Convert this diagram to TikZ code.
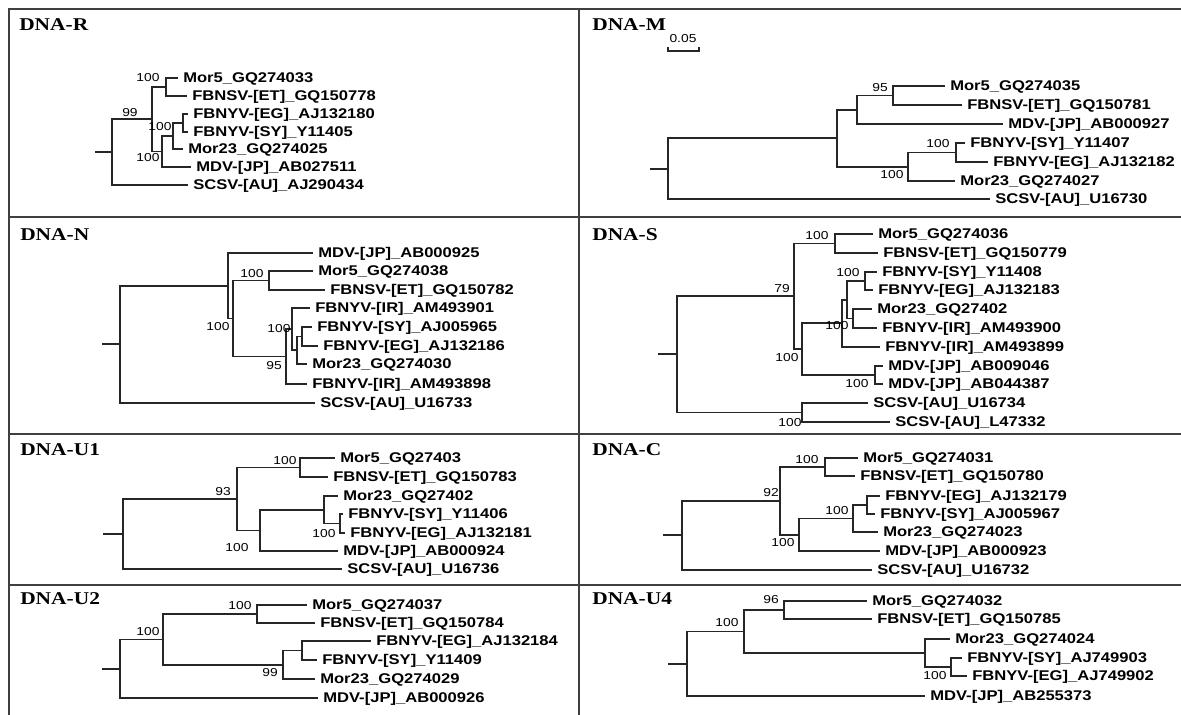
\documentclass[tikz,border=0pt]{standalone}
\usepackage{fontspec}
\usepackage{tikz}
\newfontfamily\lblfont[FakeStretch=1.18]{Liberation Sans Bold}
\newfontfamily\bsfont[FakeStretch=1.2]{Liberation Sans}
\newfontfamily\ttlfont[FakeStretch=1.19]{Liberation Serif Bold}

\begin{document}
\begin{tikzpicture}[x=0.25mm,y=-0.25mm,
  tree/.style={line width=1.2pt,draw=black!85},
  frame/.style={line width=1.4pt,draw=black!75},
  leaf/.style={anchor=west,inner sep=0pt,xshift=1.25mm,text height=7.1pt,text depth=0pt,
    font=\lblfont\fontsize{10}{12}\selectfont},
  boot/.style={inner sep=0pt,text height=5.9pt,text depth=0pt,
    font=\bsfont\fontsize{8.2}{9}\selectfont},
  panel/.style={anchor=west,inner sep=0pt,text height=8.5pt,text depth=0pt,
    font=\ttlfont\fontsize{12.8}{14}\selectfont}]
\useasboundingbox (0,0) rectangle (1181,715);

% frame
\draw[frame] (9,715) -- (9,9) -- (1181,9);
\draw[frame] (579,9) -- (579,715);
\draw[frame] (9,217) -- (1181,217);
\draw[frame] (9,434) -- (1181,434);
\draw[frame] (9,585) -- (1181,585);

% DNA-R
\node[panel] (tR) at (19,25) {DNA-R};
\coordinate (Rs) at (95,152);
\coordinate (Rr) at (112,152);
\coordinate (RA) at (152,119);
\coordinate (RB) at (166,87);
\coordinate (RC) at (162,151.5);
\coordinate (RD) at (173,136);
\coordinate (RE) at (183,123);
\coordinate (Rmor5) at (178,78);
\coordinate (Rfbnsv) at (187,96);
\coordinate (Reg) at (188,114);
\coordinate (Rsy) at (188,132);
\coordinate (Rmor23) at (183,149);
\coordinate (Rmdv) at (191,167);
\coordinate (Rscsv) at (188,185);
\draw[tree] (Rs) -- (Rr) (Rr) |- (RA) (Rr) |- (Rscsv) (RA) |- (RB) (RA) |- (RC)
  (RB) |- (Rmor5) (RB) |- (Rfbnsv) (RC) |- (RD) (RC) |- (Rmdv)
  (RD) |- (RE) (RD) |- (Rmor23) (RE) |- (Reg) (RE) |- (Rsy);
\node[leaf] (lRmor5) at (Rmor5) {Mor5\_GQ274033};
\node[leaf] (lRfbnsv) at (Rfbnsv) {FBNSV-[ET]\_GQ150778};
\node[leaf] (lReg) at (Reg) {FBNYV-[EG]\_AJ132180};
\node[leaf] (lRsy) at (Rsy) {FBNYV-[SY]\_Y11405};
\node[leaf] (lRmor23) at (Rmor23) {Mor23\_GQ274025};
\node[leaf] (lRmdv) at (Rmdv) {MDV-[JP]\_AB027511};
\node[leaf] (lRscsv) at (Rscsv) {SCSV-[AU]\_AJ290434};
\node[boot] (bRB) at (148,77) {100};
\node[boot] (bRA) at (130,112) {99};
\node[boot] (bRD) at (160,126) {100};
\node[boot] (bRC) at (148,157) {100};

% DNA-M
\node[panel] (tM) at (592,25) {DNA-M};
\coordinate (Msb1) at (668,47);
\coordinate (Msb2) at (699,47);
\draw[tree] (Msb1) -- ++(0,4) -| (Msb2);
\node[boot] (sbM) at (683,38) {0.05};
\coordinate (Ms) at (650,169);
\coordinate (Mr) at (668,169);
\coordinate (MA) at (837,138);
\coordinate (MB) at (857,110);
\coordinate (MC) at (893,95.5);
\coordinate (MD) at (908,167);
\coordinate (ME) at (956,152.5);
\coordinate (Mmor5) at (945,86);
\coordinate (Mfbnsv) at (962,105);
\coordinate (Mmdv) at (1003,124);
\coordinate (Msy) at (965,143);
\coordinate (Meg) at (988,162);
\coordinate (Mmor23) at (955,181);
\coordinate (Mscsv) at (990,199);
\draw[tree] (Ms) -- (Mr) (Mr) |- (MA) (Mr) |- (Mscsv) (MA) |- (MB) (MA) |- (MD)
  (MB) |- (MC) (MB) |- (Mmdv) (MC) |- (Mmor5) (MC) |- (Mfbnsv)
  (MD) |- (ME) (MD) |- (Mmor23) (ME) |- (Msy) (ME) |- (Meg);
\node[leaf] (lMmor5) at (Mmor5) {Mor5\_GQ274035};
\node[leaf] (lMfbnsv) at (Mfbnsv) {FBNSV-[ET]\_GQ150781};
\node[leaf] (lMmdv) at (Mmdv) {MDV-[JP]\_AB000927};
\node[leaf] (lMsy) at (Msy) {FBNYV-[SY]\_Y11407};
\node[leaf] (lMeg) at (Meg) {FBNYV-[EG]\_AJ132182};
\node[leaf] (lMmor23) at (Mmor23) {Mor23\_GQ274027};
\node[leaf] (lMscsv) at (Mscsv) {SCSV-[AU]\_U16730};
\node[boot] (bMC) at (880,87) {95};
\node[boot] (bME) at (938,143) {100};
\node[boot] (bMD) at (892,174) {100};

% DNA-N
\node[panel] (tN) at (20,235) {DNA-N};
\coordinate (Ns) at (102,344);
\coordinate (Nr) at (120,344);
\coordinate (NA) at (228,286);
\coordinate (NB) at (233,318.5);
\coordinate (NC) at (269,280.5);
\coordinate (ND) at (286,356.5);
\coordinate (NF) at (292,329);
\coordinate (NG) at (297,350);
\coordinate (NH) at (302,336.5);
\coordinate (Nmdv) at (313,253);
\coordinate (Nmor5) at (313,271);
\coordinate (Nfbnsv) at (325,290);
\coordinate (Nir) at (310,308);
\coordinate (Nsy) at (312,327);
\coordinate (Neg) at (318,346);
\coordinate (Nmor23) at (307,364);
\coordinate (Nir2) at (307,384);
\coordinate (Nscsv) at (315,403);
\draw[tree] (Ns) -- (Nr) (Nr) |- (NA) (Nr) |- (Nscsv) (NA) |- (Nmdv) (NA) |- (NB)
  (NB) |- (NC) (NB) |- (ND) (NC) |- (Nmor5) (NC) |- (Nfbnsv)
  (ND) |- (NF) (ND) |- (Nir2) (NF) |- (Nir) (NF) |- (NG)
  (NG) |- (NH) (NG) |- (Nmor23) (NH) |- (Nsy) (NH) |- (Neg);
\node[leaf] (lNmdv) at (Nmdv) {MDV-[JP]\_AB000925};
\node[leaf] (lNmor5) at (Nmor5) {Mor5\_GQ274038};
\node[leaf] (lNfbnsv) at (Nfbnsv) {FBNSV-[ET]\_GQ150782};
\node[leaf] (lNir) at (Nir) {FBNYV-[IR]\_AM493901};
\node[leaf] (lNsy) at (Nsy) {FBNYV-[SY]\_AJ005965};
\node[leaf] (lNeg) at (Neg) {FBNYV-[EG]\_AJ132186};
\node[leaf] (lNmor23) at (Nmor23) {Mor23\_GQ274030};
\node[leaf] (lNir2) at (Nir2) {FBNYV-[IR]\_AM493898};
\node[leaf] (lNscsv) at (Nscsv) {SCSV-[AU]\_U16733};
\node[boot] (bNC) at (252,273) {100};
\node[boot] (bNB) at (218,326) {100};
\node[boot] (bNF) at (279,328) {100};
\node[boot] (bND) at (274,365) {95};

% DNA-S
\node[panel] (tS) at (592,235) {DNA-S};
\coordinate (Ss) at (658,354);
\coordinate (Sr) at (677,354);
\coordinate (SA) at (794,296);
\coordinate (SB) at (835,243.5);
\coordinate (SC) at (802,349);
\coordinate (SD) at (842,323);
\coordinate (SE) at (875,375);
\coordinate (SF) at (847,300);
\coordinate (SG) at (865,281);
\coordinate (SH) at (853,318.5);
\coordinate (SI) at (802,412.5);
\coordinate (Smor5) at (873,234);
\coordinate (Sfbnsv) at (878,253);
\coordinate (Ssy) at (877,272);
\coordinate (Seg) at (873,290);
\coordinate (Smor23) at (872,309);
\coordinate (Sir) at (877,328);
\coordinate (Sir2) at (880,347);
\coordinate (Smdv) at (883,366);
\coordinate (Smdv2) at (883,384);
\coordinate (Sscsv) at (868,403);
\coordinate (Sscsv2) at (890,422);
\draw[tree] (Ss) -- (Sr) (Sr) |- (SA) (Sr) |- (SI) (SA) |- (SB) (SA) |- (SC)
  (SB) |- (Smor5) (SB) |- (Sfbnsv) (SC) |- (SD) (SC) |- (SE)
  (SD) |- (SF) (SD) |- (Sir2) (SF) |- (SG) (SF) |- (SH)
  (SG) |- (Ssy) (SG) |- (Seg) (SH) |- (Smor23) (SH) |- (Sir)
  (SE) |- (Smdv) (SE) |- (Smdv2) (SI) |- (Sscsv) (SI) |- (Sscsv2);
\node[leaf] (lSmor5) at (Smor5) {Mor5\_GQ274036};
\node[leaf] (lSfbnsv) at (Sfbnsv) {FBNSV-[ET]\_GQ150779};
\node[leaf] (lSsy) at (Ssy) {FBNYV-[SY]\_Y11408};
\node[leaf] (lSeg) at (Seg) {FBNYV-[EG]\_AJ132183};
\node[leaf] (lSmor23) at (Smor23) {Mor23\_GQ27402};
\node[leaf] (lSir) at (Sir) {FBNYV-[IR]\_AM493900};
\node[leaf] (lSir2) at (Sir2) {FBNYV-[IR]\_AM493899};
\node[leaf] (lSmdv) at (Smdv) {MDV-[JP]\_AB009046};
\node[leaf] (lSmdv2) at (Smdv2) {MDV-[JP]\_AB044387};
\node[leaf] (lSscsv) at (Sscsv) {SCSV-[AU]\_U16734};
\node[leaf] (lSscsv2) at (Sscsv2) {SCSV-[AU]\_L47332};
\node[boot] (bSA) at (782,288) {79};
\node[boot] (bSB) at (817,235) {100};
\node[boot] (bSG) at (848,272) {100};
\node[boot] (bSD) at (837,325) {100};
\node[boot] (bSC) at (787,357) {100};
\node[boot] (bSE) at (857,383) {100};
\node[boot] (bSI) at (790,422) {100};

% DNA-U1
\node[panel] (tUa) at (20,450) {DNA-U1};
\coordinate (Uas) at (103,534);
\coordinate (Uar) at (123,534);
\coordinate (UaA) at (237,499);
\coordinate (UaB) at (300,467.5);
\coordinate (UaC) at (260,530.5);
\coordinate (UaD) at (324,510);
\coordinate (UaE) at (340,523.5);
\coordinate (Uamor5) at (335,458);
\coordinate (Uafbnsv) at (328,477);
\coordinate (Uamor23) at (338,496);
\coordinate (Uasy) at (343,514);
\coordinate (Uaeg) at (345,533);
\coordinate (Uamdv) at (338,551);
\coordinate (Uascsv) at (342,569);
\draw[tree] (Uas) -- (Uar) (Uar) |- (UaA) (Uar) |- (Uascsv) (UaA) |- (UaB) (UaA) |- (UaC)
  (UaB) |- (Uamor5) (UaB) |- (Uafbnsv) (UaC) |- (UaD) (UaC) |- (Uamdv)
  (UaD) |- (Uamor23) (UaD) |- (UaE) (UaE) |- (Uasy) (UaE) |- (Uaeg);
\node[leaf] (lUamor5) at (Uamor5) {Mor5\_GQ27403};
\node[leaf] (lUafbnsv) at (Uafbnsv) {FBNSV-[ET]\_GQ150783};
\node[leaf] (lUamor23) at (Uamor23) {Mor23\_GQ27402};
\node[leaf] (lUasy) at (Uasy) {FBNYV-[SY]\_Y11406};
\node[leaf] (lUaeg) at (Uaeg) {FBNYV-[EG]\_AJ132181};
\node[leaf] (lUamdv) at (Uamdv) {MDV-[JP]\_AB000924};
\node[leaf] (lUascsv) at (Uascsv) {SCSV-[AU]\_U16736};
\node[boot] (bUaB) at (285,460) {100};
\node[boot] (bUaA) at (223,491) {93};
\node[boot] (bUaC) at (237,547) {100};
\node[boot] (bUaE) at (324,533) {100};

% DNA-C
\node[panel] (tC) at (592,450) {DNA-C};
\coordinate (Cs) at (663,535);
\coordinate (Cr) at (682,535);
\coordinate (CA) at (780,501);
\coordinate (CB) at (825,467);
\coordinate (CC) at (799,535);
\coordinate (CD) at (853,518.5);
\coordinate (CE) at (867,505);
\coordinate (Cmor5) at (858,458);
\coordinate (Cfbnsv) at (855,476);
\coordinate (Ceg) at (880,496);
\coordinate (Csy) at (875,514);
\coordinate (Cmor23) at (878,532);
\coordinate (Cmdv) at (880,551);
\coordinate (Cscsv) at (872,570);
\draw[tree] (Cs) -- (Cr) (Cr) |- (CA) (Cr) |- (Cscsv) (CA) |- (CB) (CA) |- (CC)
  (CB) |- (Cmor5) (CB) |- (Cfbnsv) (CC) |- (CD) (CC) |- (Cmdv)
  (CD) |- (CE) (CD) |- (Cmor23) (CE) |- (Ceg) (CE) |- (Csy);
\node[leaf] (lCmor5) at (Cmor5) {Mor5\_GQ274031};
\node[leaf] (lCfbnsv) at (Cfbnsv) {FBNSV-[ET]\_GQ150780};
\node[leaf] (lCeg) at (Ceg) {FBNYV-[EG]\_AJ132179};
\node[leaf] (lCsy) at (Csy) {FBNYV-[SY]\_AJ005967};
\node[leaf] (lCmor23) at (Cmor23) {Mor23\_GQ274023};
\node[leaf] (lCmdv) at (Cmdv) {MDV-[JP]\_AB000923};
\node[leaf] (lCscsv) at (Cscsv) {SCSV-[AU]\_U16732};
\node[boot] (bCB) at (807,459) {100};
\node[boot] (bCA) at (771,492) {92};
\node[boot] (bCD) at (837,510) {100};
\node[boot] (bCC) at (783,542) {100};

% DNA-U2
\node[panel] (tUb) at (20,599) {DNA-U2};
\coordinate (Ubs) at (102,669);
\coordinate (Ubr) at (120,669);
\coordinate (UbA) at (163,639.5);
\coordinate (UbB) at (257,614);
\coordinate (UbC) at (283,665);
\coordinate (UbD) at (302,650.5);
\coordinate (Ubmor5) at (307,605);
\coordinate (Ubfbnsv) at (315,623);
\coordinate (Ubeg) at (371,641);
\coordinate (Ubsy) at (317,660);
\coordinate (Ubmor23) at (315,679);
\coordinate (Ubmdv) at (318,698);
\draw[tree] (Ubs) -- (Ubr) (Ubr) |- (UbA) (Ubr) |- (Ubmdv) (UbA) |- (UbB) (UbA) |- (UbC)
  (UbB) |- (Ubmor5) (UbB) |- (Ubfbnsv) (UbC) |- (UbD) (UbC) |- (Ubmor23)
  (UbD) |- (Ubeg) (UbD) |- (Ubsy);
\node[leaf] (lUbmor5) at (Ubmor5) {Mor5\_GQ274037};
\node[leaf] (lUbfbnsv) at (Ubfbnsv) {FBNSV-[ET]\_GQ150784};
\node[leaf] (lUbeg) at (Ubeg) {FBNYV-[EG]\_AJ132184};
\node[leaf] (lUbsy) at (Ubsy) {FBNYV-[SY]\_Y11409};
\node[leaf] (lUbmor23) at (Ubmor23) {Mor23\_GQ274029};
\node[leaf] (lUbmdv) at (Ubmdv) {MDV-[JP]\_AB000926};
\node[boot] (bUbB) at (240,605) {100};
\node[boot] (bUbA) at (148,631) {100};
\node[boot] (bUbC) at (270,672) {99};

% DNA-U4
\node[panel] (tUd) at (592,599) {DNA-U4};
\coordinate (Uds) at (668,664);
\coordinate (Udr) at (687,664);
\coordinate (UdA) at (744,631.5);
\coordinate (UdB) at (784,610);
\coordinate (UdC) at (925,653);
\coordinate (UdD) at (951,667);
\coordinate (Udmor5) at (867,601);
\coordinate (Udfbnsv) at (872,619);
\coordinate (Udmor23) at (950,639);
\coordinate (Udsy) at (962,658);
\coordinate (Udeg) at (967,676);
\coordinate (Udmdv) at (925,696);
\draw[tree] (Uds) -- (Udr) (Udr) |- (UdA) (Udr) |- (Udmdv) (UdA) |- (UdB) (UdA) |- (UdC)
  (UdB) |- (Udmor5) (UdB) |- (Udfbnsv) (UdC) |- (Udmor23) (UdC) |- (UdD)
  (UdD) |- (Udsy) (UdD) |- (Udeg);
\node[leaf] (lUdmor5) at (Udmor5) {Mor5\_GQ274032};
\node[leaf] (lUdfbnsv) at (Udfbnsv) {FBNSV-[ET]\_GQ150785};
\node[leaf] (lUdmor23) at (Udmor23) {Mor23\_GQ274024};
\node[leaf] (lUdsy) at (Udsy) {FBNYV-[SY]\_AJ749903};
\node[leaf] (lUdeg) at (Udeg) {FBNYV-[EG]\_AJ749902};
\node[leaf] (lUdmdv) at (Udmdv) {MDV-[JP]\_AB255373};
\node[boot] (bUdB) at (771,599) {96};
\node[boot] (bUdA) at (727,622) {100};
\node[boot] (bUdD) at (935,675) {100};
\end{tikzpicture}
\end{document}
